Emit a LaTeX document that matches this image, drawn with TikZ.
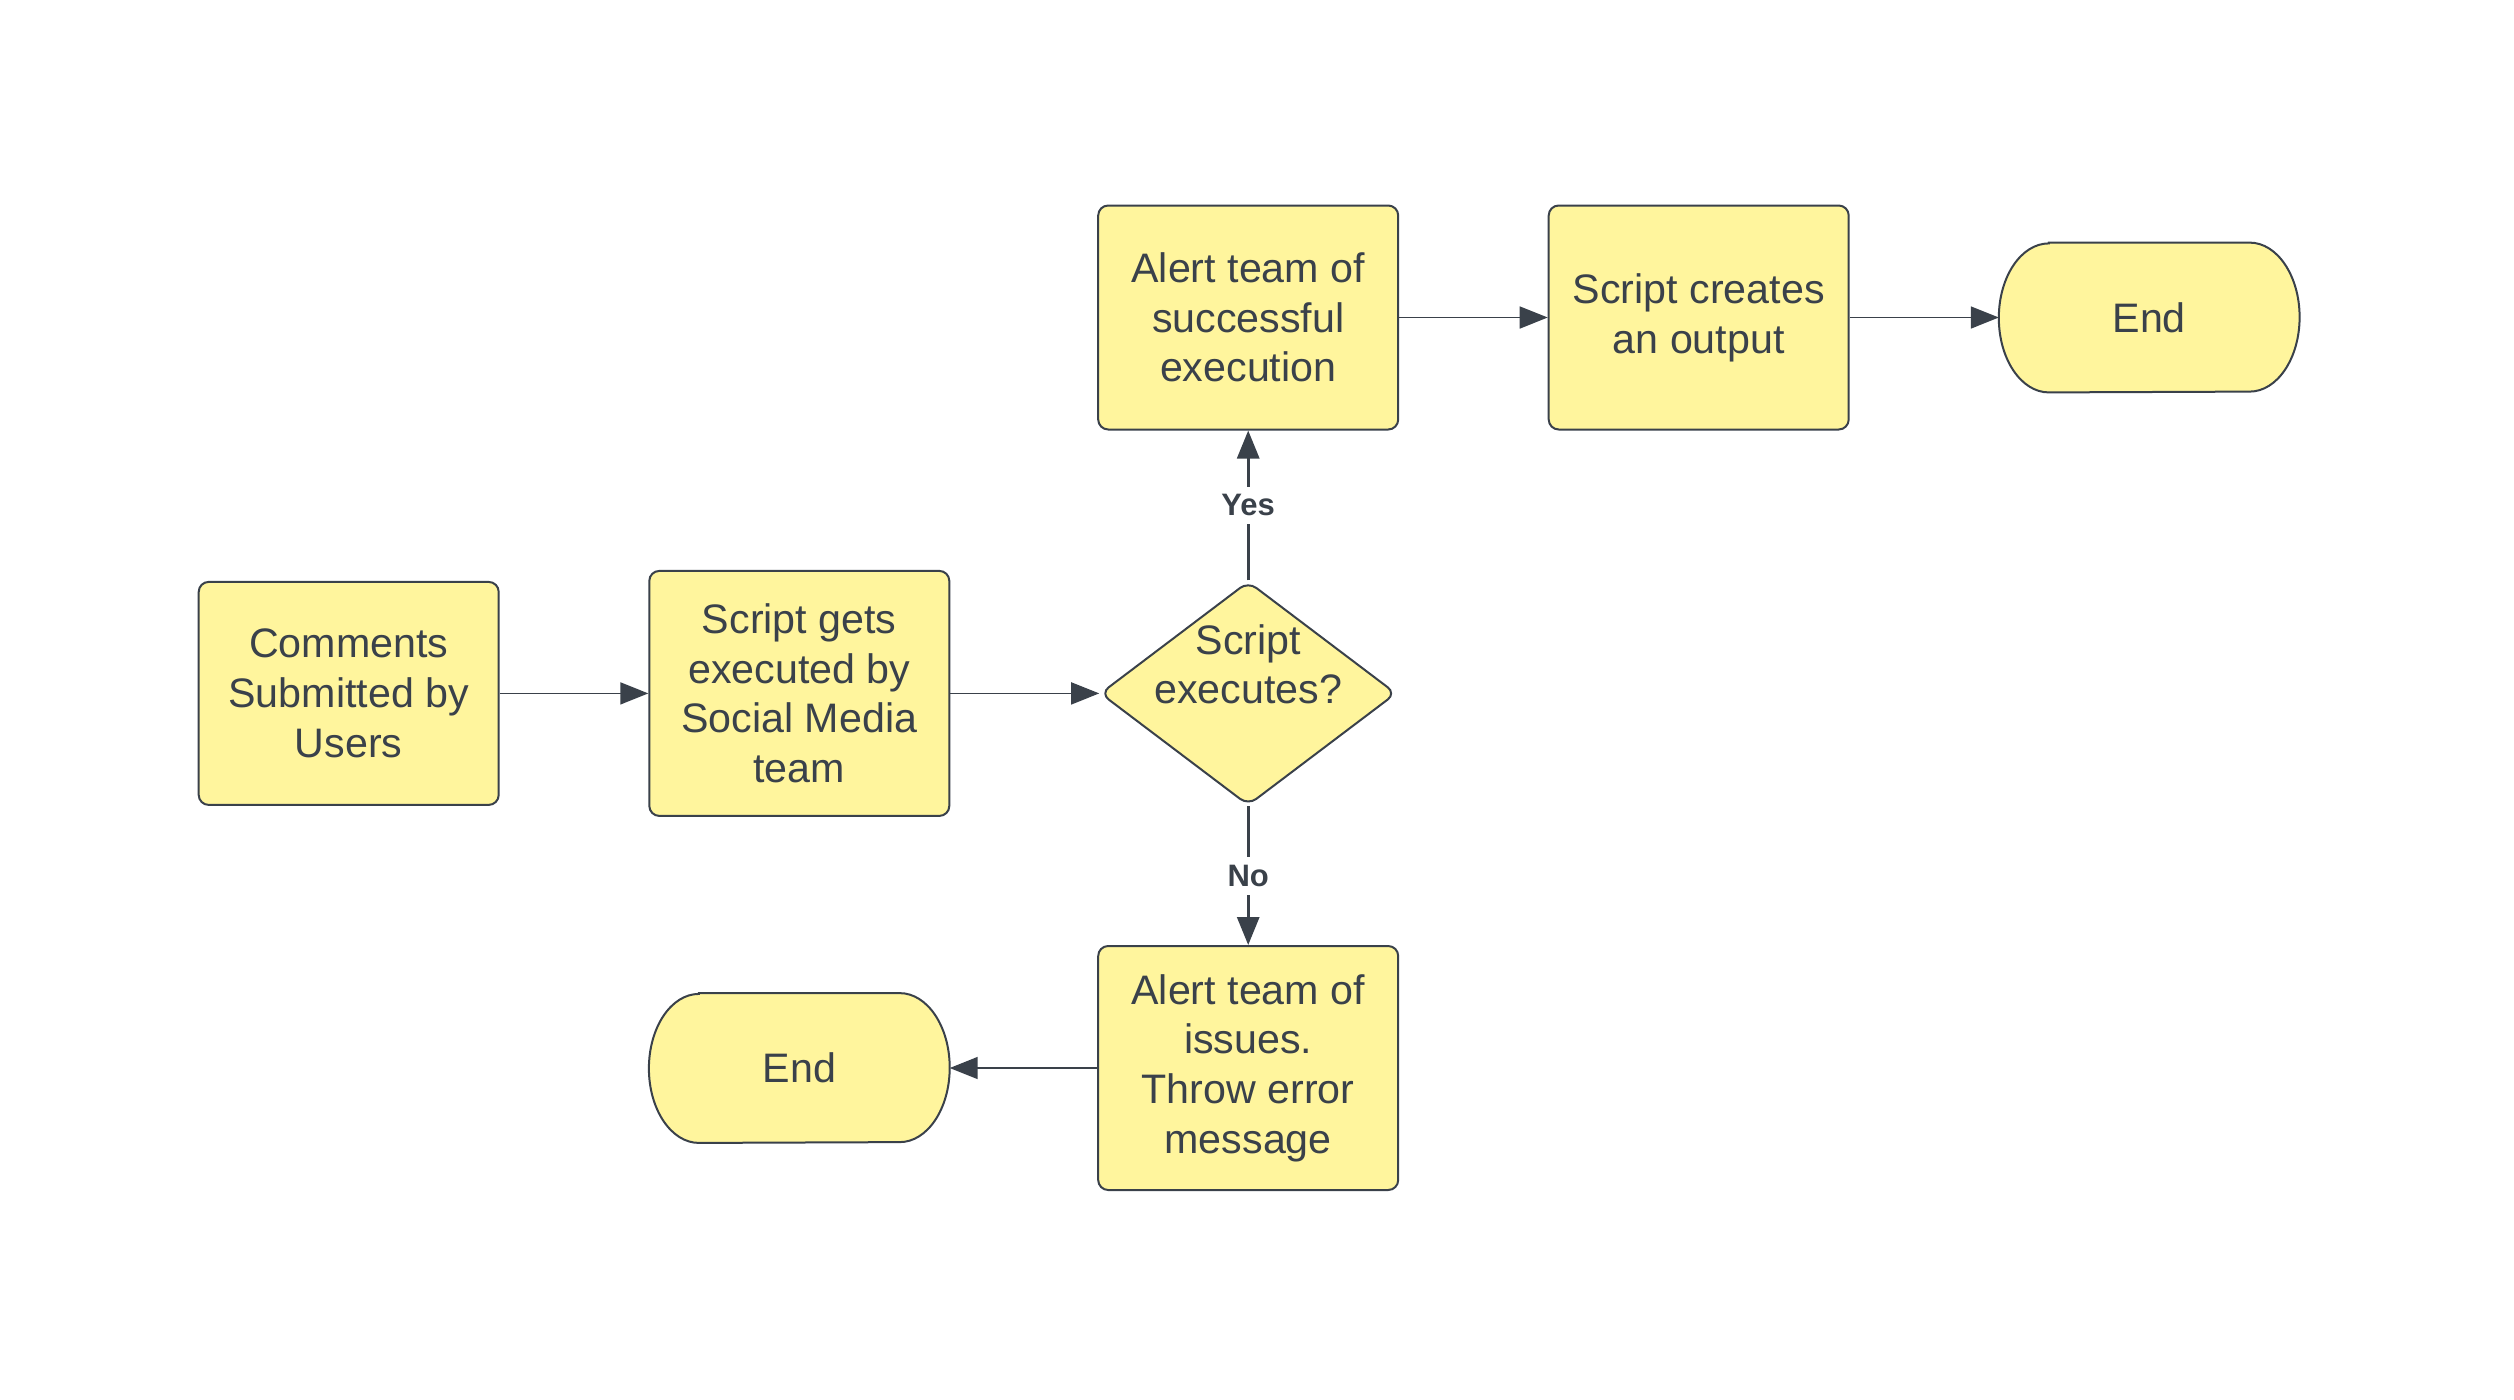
\documentclass[tikz,border=0pt]{standalone}
\usepackage{fontspec}
\setmainfont{Liberation Sans}
\usetikzlibrary{shapes.geometric,arrows.meta,calc,backgrounds}
\definecolor{fillY}{HTML}{FFF59D}
\definecolor{ink}{HTML}{3A414A}
\begin{document}
\begin{tikzpicture}[x=0.5pt,y=-0.5pt,
  txt/.style={text=ink, align=center, font=\fontsize{20.6}{24.85}\selectfont, inner sep=0pt},
  box/.style={txt, draw=ink, fill=fillY, line width=1pt, rounded corners=5pt, minimum width=150pt},
  termin/.style={txt, minimum width=150pt, minimum height=74.5pt},
  endshape/.style={draw=ink, fill=fillY, line width=1pt},
  decision/.style={shape=diamond, draw=ink, fill=fillY, line width=1pt, rounded corners=5pt, minimum width=148pt, minimum height=112pt, inner sep=0pt},
  hconn/.style={draw=ink, line width=0.8pt, -{Triangle[length=14pt,width=11pt]}},
  vconn/.style={draw=ink, line width=1.5pt, -{Triangle[length=14pt,width=11pt]}},
  lbl/.style={fill=white, text=ink, font=\bfseries\fontsize{15.5}{18}\selectfont, inner xsep=2pt, inner ysep=4pt}
]
\useasboundingbox (0,0) rectangle (2514,1399);

\node[box, minimum height=111.5pt] (c) at (348.7,693.4) {Comments\\Submitted by\\Users};
\node[box, minimum height=122.5pt] (s) at (799.3,693.4) {Script gets\\executed by\\Social Media\\team};
\node[decision] (d) at (1248.2,693.4) {};
\node[txt] (dt) at ($(d.center)+(0,-29)$) {Script\\executes?};
\node[box, minimum height=112pt] (a) at (1248.2,317.5) {Alert team of\\successful\\execution};
\node[box, minimum height=112pt] (o) at (1698.7,317.5) {Script creates\\an output};
\node[termin] (e1) at (2149.2,317.5) {End};
\node[box, minimum height=122pt] (i) at (1248.2,1068) {Alert team of\\issues.\\Throw error\\message};
\node[termin] (e2) at (799.3,1068) {End};

\begin{scope}[on background layer]
\fill[white] (0,0) rectangle (2514,1399);
\foreach \e in {e1,e2}{
  \path[endshape] ($(\e.north west)+(50,0)$) -- ($(\e.north east)+(-50,0)$)
    arc[start angle=90,end angle=-90,x radius=25pt,y radius=37.25pt]
    -- ($(\e.south west)+(50,0)$)
    arc[start angle=270,end angle=90,x radius=25pt,y radius=37.25pt] -- cycle;
}
\end{scope}

\draw[hconn] (c.east) -- (s.west);
\draw[hconn] (s.east) -- (d.west);
\draw[vconn] (d.north) -- node[lbl] {Yes} (a.south);
\draw[vconn] (d.south) -- node[lbl] {No} (i.north);
\draw[hconn] (a.east) -- (o.west);
\draw[hconn] (o.east) -- (e1.west);
\draw[hconn] (i.west) -- (e2.east);
\end{tikzpicture}
\end{document}
